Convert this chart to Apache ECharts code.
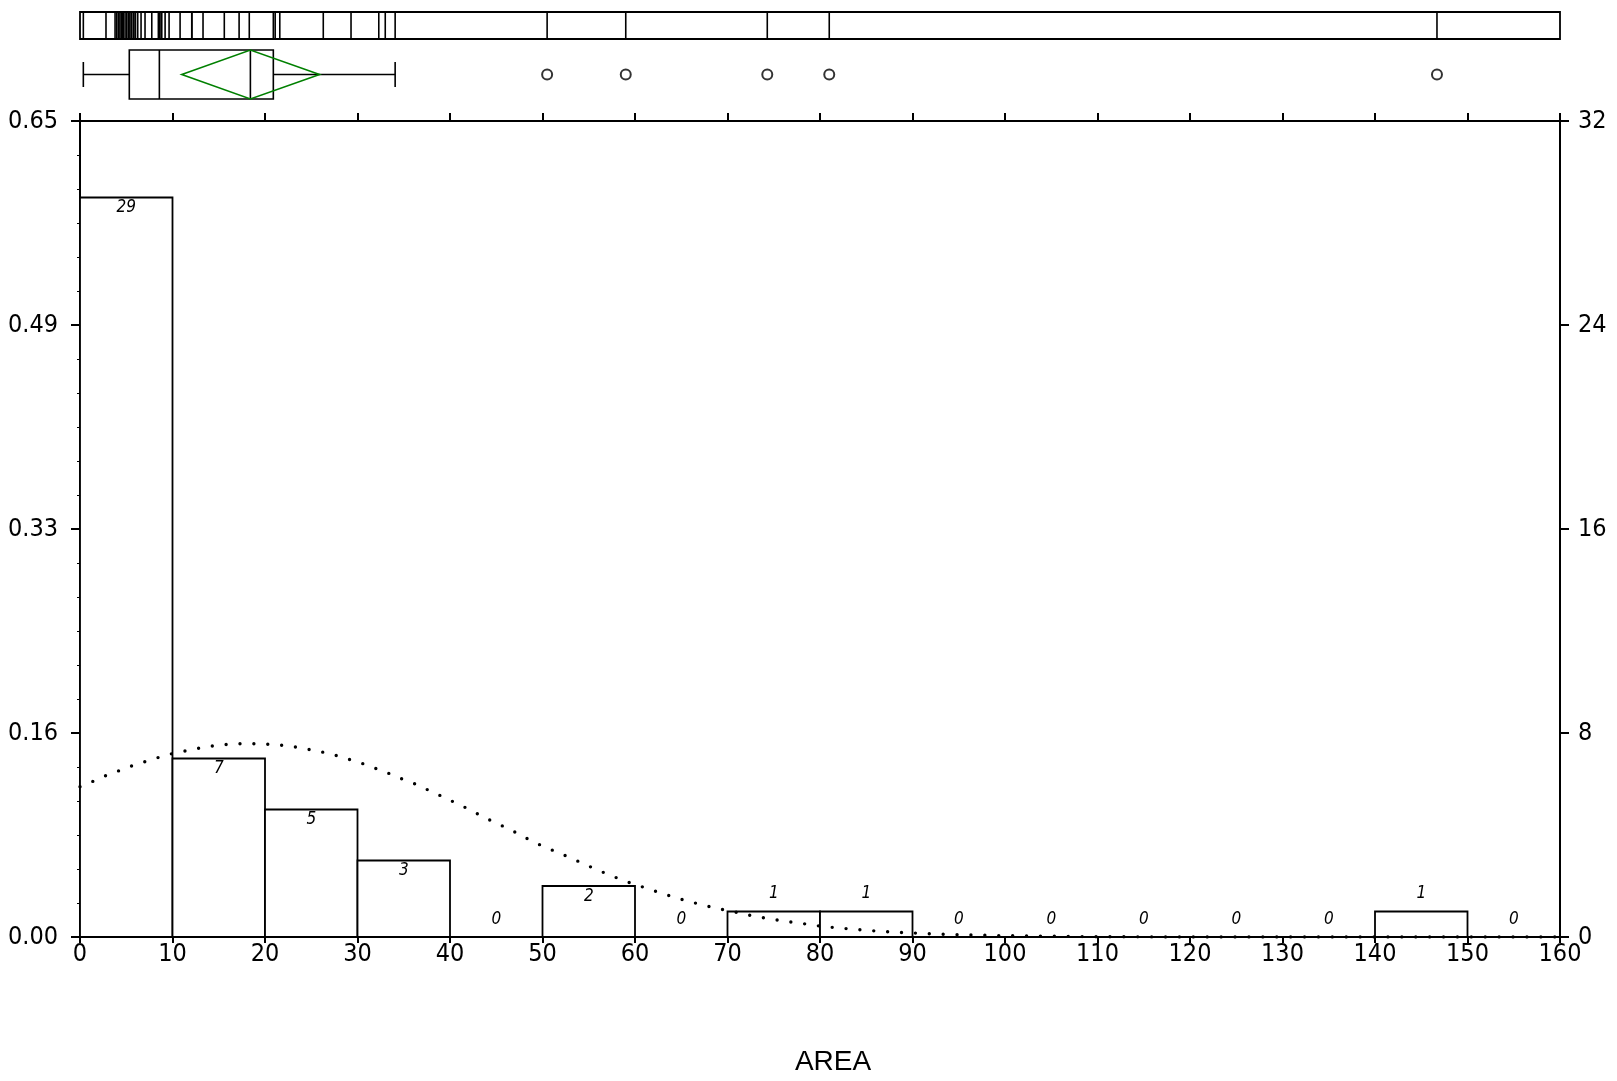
<!DOCTYPE html>
<html>
<head>
<meta charset="utf-8">
<script src="https://cdn.jsdelivr.net/npm/echarts@6/dist/echarts.min.js"></script>
<style>
html,body{margin:0;padding:0;background:#fff}
#main{width:1617px;height:1081px}
</style>
</head>
<body>
<div id="main"></div>
<script>
// histogram bins (width 10) and counts
var binStart = [0,10,20,30,40,50,60,70,80,90,100,110,120,130,140,150];
var binCount = [29,7,5,3,0,2,0,1,1,0,0,0,0,0,1,0];
var nTotal = 49;
var binWidth = 10;

// box plot: min, Q1, median, Q3, upper whisker
var boxStats = [0.36, 5.33, 8.58, 20.9, 34.07];
// mean diamond: lower, mean, upper
var meanDiamond = [11.0, 18.42, 25.9];
var outliers = [50.5, 59.0, 74.3, 81.0, 146.7];

// single observations for the rug at the top
var observations = [0.36,2.81,3.79,3.97,4.14,4.2,4.33,4.51,4.6,4.68,4.87,5.05,5.22,5.3,5.41,5.59,5.77,5.95,6.0,6.24,6.6,7.03,7.76,8.47,8.58,8.65,8.84,9.2,9.63,
  10.82,12.08,12.1,13.3,15.6,17.2,18.3,
  20.9,21.1,21.6,26.3,29.3,
  32.3,33.0,34.07,
  50.5,59.0,74.3,81.0,146.7];

// fitted normal curve (x, count)
var normalCurve = [[0,5.89],[1.5,6.12],[3,6.36],[4.6,6.57],[6.1,6.78],[7.6,6.93],[9.1,7.12],[10.6,7.24],[12.1,7.35],[13.6,7.46],
  [15.1,7.53],[16.6,7.57],[18.0,7.59],[19.6,7.57],[21.1,7.55],[22.6,7.49],[24.1,7.40],[25.6,7.30],[27.1,7.18],[28.6,7.02],
  [30.1,6.86],[31.6,6.66],[33.1,6.46],[34.5,6.24],[36.1,6.02],[37.6,5.77],[39.1,5.52],[40.6,5.26],[42.1,5.00],[43.6,4.71],
  [45.1,4.45],[46.6,4.2],[48.0,3.92],[49.5,3.65],[51.1,3.40],[52.6,3.17],[54.1,2.93],[55.5,2.70],[57.0,2.47],[58.5,2.25],
  [60.0,2.06],[61.6,1.87],[63.0,1.70],[64.5,1.53],[66.1,1.37],[67.6,1.23],[69.1,1.10],[70.6,1.00],[72.0,0.88],[73.6,0.77],
  [75.1,0.68],[76.6,0.60],[78.1,0.53],[79.5,0.45],[81.0,0.39],[82.5,0.34],[84.0,0.29],[85.5,0.25],[87.0,0.21],[88.5,0.18],
  [90.0,0.16],[91.5,0.13],[95,0.09],[100,0.05],[105,0.03],[110,0.01],[120,0],[160,0]];

var narrowFont = "'Liberation Sans Narrow','DejaVu Sans Condensed',sans-serif";

var histData = [];
for (var i = 0; i < binStart.length; i++) {
  histData.push([binStart[i], binStart[i] + binWidth, binCount[i]]);
}

var myChart = echarts.init(document.getElementById('main'));

function renderBar(params, api) {
  var x0 = api.value(0), x1 = api.value(1), c = api.value(2);
  var p0 = api.coord([x0, c]);
  var p1 = api.coord([x1, 0]);
  var inside = c >= 2;
  return {
    type: 'group',
    children: [
      { type: 'rect', shape: { x: p0[0], y: p0[1], width: p1[0] - p0[0], height: p1[1] - p0[1] },
        style: { fill: '#fff', stroke: '#000', lineWidth: 1.8 } },
      { type: 'text', x: (p0[0] + p1[0]) / 2, y: inside ? p0[1] + 2 : p0[1] - 9,
        style: { text: String(c), fill: '#000', fontSize: 17, fontStyle: 'italic', fontFamily: narrowFont,
                 align: 'center', verticalAlign: inside ? 'top' : 'bottom' } }
    ]
  };
}

function renderRug(params, api) {
  var v = api.value(0);
  var a = api.coord([v, 0]), b = api.coord([v, 1]);
  return { type: 'line', shape: { x1: a[0], y1: a[1], x2: b[0], y2: b[1] }, style: { stroke: '#000', lineWidth: 1.6 } };
}

function renderBox(params, api) {
  var mn = api.coord([api.value(0), 0.5]);
  var q1b = api.coord([api.value(1), 0]), q1t = api.coord([api.value(1), 1]);
  var med = api.coord([api.value(2), 0]), medT = api.coord([api.value(2), 1]);
  var q3b = api.coord([api.value(3), 0]);
  var mx = api.coord([api.value(4), 0.5]);
  var capLo = api.coord([0, 0.245])[1], capHi = api.coord([0, 0.755])[1];
  var dLo = api.coord([meanDiamond[0], 0.5]), dMid = api.coord([meanDiamond[1], 1]),
      dMidB = api.coord([meanDiamond[1], 0]), dHi = api.coord([meanDiamond[2], 0.5]);
  var s = { stroke: '#000', lineWidth: 1.6, fill: null };
  return {
    type: 'group',
    children: [
      { type: 'line', shape: { x1: mn[0], y1: mn[1], x2: q1b[0], y2: mn[1] }, style: s },
      { type: 'line', shape: { x1: q3b[0], y1: mx[1], x2: mx[0], y2: mx[1] }, style: s },
      { type: 'line', shape: { x1: mn[0], y1: capLo, x2: mn[0], y2: capHi }, style: s },
      { type: 'line', shape: { x1: mx[0], y1: capLo, x2: mx[0], y2: capHi }, style: s },
      { type: 'rect', shape: { x: q1t[0], y: q1t[1], width: q3b[0] - q1t[0], height: q1b[1] - q1t[1] }, style: s },
      { type: 'line', shape: { x1: med[0], y1: med[1], x2: medT[0], y2: medT[1] }, style: s },
      { type: 'line', shape: { x1: dMid[0], y1: dMid[1], x2: dMidB[0], y2: dMidB[1] }, style: s },
      { type: 'polygon', shape: { points: [dLo, dMid, dHi, dMidB] }, style: { stroke: '#008000', lineWidth: 1.6, fill: null } }
    ]
  };
}

var axisLabelStyle = { color: '#000', fontSize: 25, fontFamily: narrowFont };

option = {
  animation: false,
  backgroundColor: '#fff',
  grid: [
    { left: 80, right: 57, top: 121, bottom: 144 },
    { left: 80, right: 57, top: 12, height: 27, show: true, borderColor: '#000', borderWidth: 1.8, backgroundColor: 'transparent' },
    { left: 80, right: 57, top: 50, height: 49 }
  ],
  xAxis: [
    { type: 'value', gridIndex: 0, min: 0, max: 160, interval: 10, position: 'bottom',
      axisLine: { show: true, onZero: false, lineStyle: { color: '#000', width: 2 } },
      axisTick: { show: true, inside: false, length: 6, lineStyle: { color: '#000', width: 2 } },
      axisLabel: Object.assign({ margin: 5 }, axisLabelStyle),
      splitLine: { show: false } },
    { type: 'value', gridIndex: 0, min: 0, max: 160, interval: 10, position: 'top',
      axisLine: { show: true, onZero: false, lineStyle: { color: '#000', width: 2 } },
      axisTick: { show: true, inside: false, length: 8, lineStyle: { color: '#000', width: 2 } },
      axisLabel: { show: false }, splitLine: { show: false } },
    { type: 'value', gridIndex: 1, min: 0, max: 160, show: false },
    { type: 'value', gridIndex: 2, min: 0, max: 160, show: false }
  ],
  yAxis: [
    { type: 'value', gridIndex: 0, min: 0, max: 32, interval: 8, position: 'left',
      axisLine: { show: true, onZero: false, lineStyle: { color: '#000', width: 2 } },
      axisTick: { show: true, inside: false, length: 9, lineStyle: { color: '#000', width: 2 } },
      minorTick: { show: true, splitNumber: 6, length: 3, lineStyle: { color: '#000', width: 1 } },
      axisLabel: Object.assign({ margin: 22, formatter: function (v) { return (v / nTotal).toFixed(2); } }, axisLabelStyle),
      splitLine: { show: false } },
    { type: 'value', gridIndex: 0, min: 0, max: 32, interval: 8, position: 'right',
      axisLine: { show: true, onZero: false, lineStyle: { color: '#000', width: 2 } },
      axisTick: { show: true, inside: false, length: 9, lineStyle: { color: '#000', width: 2 } },
      axisLabel: Object.assign({ margin: 18 }, axisLabelStyle),
      splitLine: { show: false } },
    { type: 'value', gridIndex: 1, min: 0, max: 1, show: false },
    { type: 'value', gridIndex: 2, min: 0, max: 1, show: false }
  ],
  series: [
    { type: 'custom', name: 'hist', xAxisIndex: 0, yAxisIndex: 0, renderItem: renderBar,
      encode: { x: [0, 1], y: 2 }, data: histData, z: 3 },
    { type: 'line', name: 'normal', xAxisIndex: 0, yAxisIndex: 0, data: normalCurve,
      showSymbol: false, symbol: 'none', z: 5,
      lineStyle: { color: '#000', width: 3.4, type: [0, 13.9], cap: 'round' } },
    { type: 'custom', name: 'rug', xAxisIndex: 2, yAxisIndex: 2, renderItem: renderRug,
      encode: { x: 0 }, data: observations.map(function (v) { return [v]; }) },
    { type: 'custom', name: 'box', xAxisIndex: 3, yAxisIndex: 3, renderItem: renderBox,
      encode: { x: [0, 1, 2, 3, 4] }, data: [boxStats] },
    { type: 'scatter', name: 'outliers', xAxisIndex: 3, yAxisIndex: 3, symbol: 'circle', symbolSize: 10,
      itemStyle: { color: '#fff', borderColor: '#000', borderWidth: 2 },
      data: outliers.map(function (v) { return [v, 0.5]; }) }
  ],
  graphic: [
    { type: 'text', x: 833, y: 1062, style: { text: 'AREA', fill: '#000', fontSize: 28,
      fontFamily: "'Liberation Sans', Arial, sans-serif", align: 'center', verticalAlign: 'middle' } }
  ]
};

myChart.setOption(option, true);
</script>
</body>
</html>
